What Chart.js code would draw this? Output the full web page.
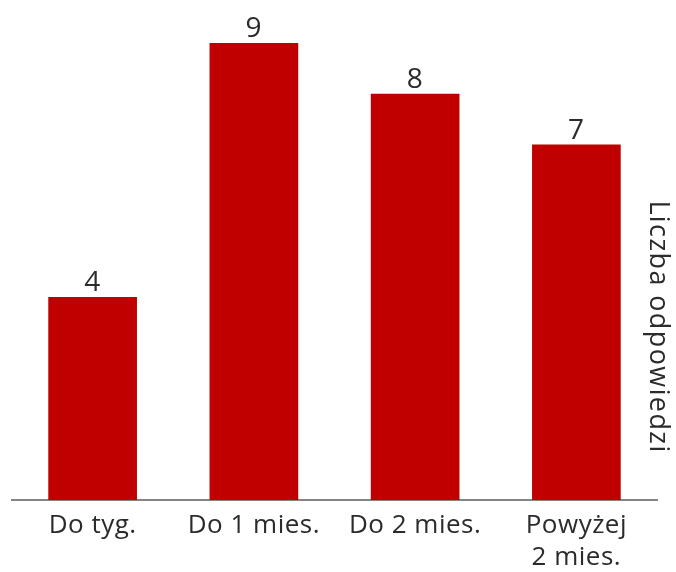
<!DOCTYPE html>
<html lang="pl">
<head>
<meta charset="utf-8">
<title>Liczba odpowiedzi</title>
<script src="https://cdn.jsdelivr.net/npm/chart.js@4/dist/chart.umd.min.js"></script>
<style>
    html, body { margin: 0; padding: 0; background: #fff; overflow: hidden; }
    #frame { width: 676px; height: 572px; overflow: hidden; }
    #wrap { width: 676px; height: 584px; position: relative; }
</style>
</head>
<body>
<div id="frame"><div id="wrap"><canvas id="answersChart"></canvas></div></div>
<script>
// Categories and answer counts
const categories = ['Do tyg.', 'Do 1 mies.', 'Do 2 mies.', ['Powyżej', '2 mies.']];
const answerCounts = [4, 9, 8, 7];
const axisTitle = 'Liczba odpowiedzi';

const barColor = '#c00000';
const textColor = '#2b2b2b';
const fontFamily = "'Open Sans', 'Noto Sans', sans-serif";

// Slightly wider tracking for all canvas text
const tracking = {
    id: 'tracking',
    beforeLayout(chart) { chart.ctx.letterSpacing = '0.5px'; },
    beforeDraw(chart) { chart.ctx.letterSpacing = '0.5px'; }
};

// Draws the count above each bar
const valueLabels = {
    id: 'valueLabels',
    afterDatasetsDraw(chart) {
        const ctx = chart.ctx;
        const meta = chart.getDatasetMeta(0);
        const values = chart.data.datasets[0].data;
        ctx.save();
        ctx.font = '28px ' + fontFamily;
        ctx.fillStyle = textColor;
        ctx.textAlign = 'center';
        ctx.textBaseline = 'alphabetic';
        meta.data.forEach((bar, i) => {
            ctx.fillText(String(values[i]), bar.x, bar.y - 6);
        });
        ctx.restore();
    }
};

// Vertical axis title on the right-hand side
const sideTitle = {
    id: 'sideTitle',
    afterDraw(chart) {
        const ctx = chart.ctx;
        const area = chart.chartArea;
        ctx.save();
        ctx.translate(area.right + 1, area.top + 284);
        ctx.rotate(Math.PI / 2);
        ctx.font = '27px ' + fontFamily;
        ctx.letterSpacing = '1.4px';
        ctx.fillStyle = textColor;
        ctx.textAlign = 'center';
        ctx.textBaseline = 'middle';
        ctx.fillText(axisTitle, 0, 0);
        ctx.restore();
    }
};

document.addEventListener('DOMContentLoaded', function() {
    const ctx = document.getElementById('answersChart');

    new Chart(ctx, {
        type: 'bar',
        data: {
            labels: categories,
            datasets: [{
                data: answerCounts,
                backgroundColor: barColor,
                borderWidth: 0,
                categoryPercentage: 1,
                barPercentage: 0.55
            }]
        },
        options: {
            responsive: true,
            maintainAspectRatio: false,
            animation: false,
            layout: {
                padding: { top: 43, left: 12, right: 19, bottom: 0 }
            },
            plugins: {
                legend: { display: false },
                tooltip: { enabled: false }
            },
            scales: {
                x: {
                    grid: { display: false, drawTicks: false },
                    border: { display: true, color: '#858585', width: 2 },
                    ticks: {
                        color: textColor,
                        padding: 10,
                        maxRotation: 0,
                        autoSkip: false,
                        font: { family: fontFamily, size: 26, lineHeight: 1.23 }
                    }
                },
                y: {
                    display: false,
                    min: 0,
                    max: 9
                }
            }
        },
        plugins: [tracking, valueLabels, sideTitle]
    });
});
</script>
</body>
</html>
